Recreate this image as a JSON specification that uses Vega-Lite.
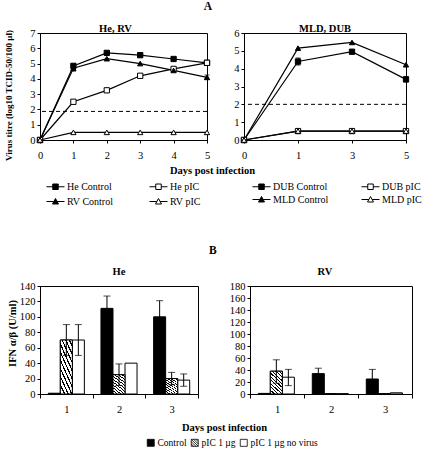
{
  "$schema": "https://vega.github.io/schema/vega-lite/v6.json",
  "padding": {"left": 3, "top": 0, "right": 0, "bottom": 0},
  "background": "white",
  "config": {
    "font": "Liberation Serif",
    "view": {"stroke": "black", "strokeWidth": 1},
    "axis": {
      "labelFont": "Liberation Serif", "labelFontSize": 10.5, "labelColor": "black",
      "titleFont": "Liberation Serif", "titleFontSize": 10, "titleFontWeight": "bold", "titleColor": "black",
      "domainColor": "black", "tickColor": "black", "grid": false, "tickSize": 3, "labelPadding": 2
    },
    "title": {"font": "Liberation Serif", "fontSize": 10.5, "fontWeight": "bold", "color": "black"},
    "legend": {"labelFont": "Liberation Serif", "labelFontSize": 10, "labelColor": "black"}
  },
  "resolve": {"scale": {"fill": "independent", "shape": "independent", "stroke": "independent"}, "legend": {"fill": "independent", "shape": "independent", "stroke": "independent"}},
  "spacing": 36,
  "vconcat": [
    {
      "title": {"text": "A", "anchor": "middle", "fontSize": 11.5, "offset": 11, "dx": -5},
      "bounds": "flush",
      "spacing": 37,
      "resolve": {"scale": {"fill": "independent", "shape": "independent", "stroke": "independent"}, "legend": {"fill": "independent", "shape": "independent", "stroke": "independent"}},
      "hconcat": [
        {
          "width": 167, "height": 107,
          "title": {"text": "He, RV", "frame": "group", "dx": -8, "offset": -6},
          "data": {"values": [
            {"series": "He Control", "day": "0", "titre": 0},
            {"series": "He Control", "day": "1", "titre": 4.85, "lo": 4.75, "hi": 4.95},
            {"series": "He Control", "day": "2", "titre": 5.7},
            {"series": "He Control", "day": "3", "titre": 5.55},
            {"series": "He Control", "day": "4", "titre": 5.3},
            {"series": "He Control", "day": "5", "titre": 5.05},
            {"series": "He pIC", "day": "0", "titre": 0},
            {"series": "He pIC", "day": "1", "titre": 2.5},
            {"series": "He pIC", "day": "2", "titre": 3.25},
            {"series": "He pIC", "day": "3", "titre": 4.2},
            {"series": "He pIC", "day": "4", "titre": 4.65},
            {"series": "He pIC", "day": "5", "titre": 5.05},
            {"series": "RV Control", "day": "0", "titre": 0},
            {"series": "RV Control", "day": "1", "titre": 4.7, "lo": 4.5, "hi": 4.9},
            {"series": "RV Control", "day": "2", "titre": 5.32},
            {"series": "RV Control", "day": "3", "titre": 5.0},
            {"series": "RV Control", "day": "4", "titre": 4.55},
            {"series": "RV Control", "day": "5", "titre": 4.1, "lo": 3.95, "hi": 4.25},
            {"series": "RV pIC", "day": "0", "titre": 0},
            {"series": "RV pIC", "day": "1", "titre": 0.5},
            {"series": "RV pIC", "day": "2", "titre": 0.5},
            {"series": "RV pIC", "day": "3", "titre": 0.5},
            {"series": "RV pIC", "day": "4", "titre": 0.5},
            {"series": "RV pIC", "day": "5", "titre": 0.5}
          ]},
          "layer": [
            {
              "mark": {"type": "line", "color": "black", "strokeWidth": 1.2},
              "encoding": {
                "x": {"field": "day", "type": "ordinal", "scale": {"type": "point", "padding": 0},
                  "axis": {"title": "Days post infection", "titleX": 172, "titleY": 30, "titleAlign": "center", "titleBaseline": "middle", "titleFontSize": 10.5, "labelAngle": 0, "labelPadding": 7}},
                "y": {"field": "titre", "type": "quantitative", "scale": {"domain": [0, 7], "nice": false},
                  "axis": {"title": "Virus titre (log10 TCID-50/100 µl)", "titleFontSize": 9, "titleX": -32, "titleY": 62, "titleAlign": "center", "titleBaseline": "middle", "titleAngle": 270, "values": [0, 1, 2, 3, 4, 5, 6, 7], "tickCount": 20, "format": "d", "labelOverlap": false}},
                "detail": {"field": "series"}
              }
            },
            {
              "data": {"values": [{"threshold": 1.87}]},
              "mark": {"type": "rule", "color": "black", "strokeDash": [4, 3], "strokeWidth": 1},
              "encoding": {"y": {"field": "threshold", "type": "quantitative"}}
            },
            {
              "transform": [{"filter": "isValid(datum.lo)"}],
              "mark": {"type": "rule", "color": "black", "strokeWidth": 1},
              "encoding": {"x": {"field": "day", "type": "ordinal"}, "y": {"field": "lo", "type": "quantitative"}, "y2": {"field": "hi"}}
            },
            {
              "transform": [{"filter": "isValid(datum.lo)"}],
              "mark": {"type": "tick", "color": "black", "size": 5, "thickness": 1},
              "encoding": {"x": {"field": "day", "type": "ordinal"}, "y": {"field": "lo", "type": "quantitative"}}
            },
            {
              "transform": [{"filter": "isValid(datum.lo)"}],
              "mark": {"type": "tick", "color": "black", "size": 5, "thickness": 1},
              "encoding": {"x": {"field": "day", "type": "ordinal"}, "y": {"field": "hi", "type": "quantitative"}}
            },
            {
              "mark": {"type": "point", "filled": true, "stroke": "black", "strokeWidth": 1, "size": 28, "opacity": 1},
              "encoding": {
                "x": {"field": "day", "type": "ordinal"},
                "y": {"field": "titre", "type": "quantitative"},
                "shape": {"condition": {"test": "indexof(datum.series,'He')===0", "value": "square"}, "value": "triangle-up"},
                "fill": {"condition": {"test": "indexof(datum.series,'Control')>=0", "value": "black"}, "value": "white"}
              }
            },
            {
              "mark": {"type": "point", "filled": true, "strokeWidth": 1, "opacity": 0},
              "encoding": {
                "x": {"field": "day", "type": "ordinal"},
                "y": {"field": "titre", "type": "quantitative"},
                "shape": {"field": "series", "type": "nominal",
                  "scale": {"domain": ["He Control", "RV Control", "He pIC", "RV pIC"],
                    "range": ["M-1.8,0H-0.55M0.55,0H1.8M-0.55,-0.55H0.55V0.55H-0.55Z", "M-1.8,0H-0.33M0.33,0H1.8M0,-0.6L0.6,0.5H-0.6Z", "M-1.8,0H-0.55M0.55,0H1.8M-0.55,-0.55H0.55V0.55H-0.55Z", "M-1.8,0H-0.33M0.33,0H1.8M0,-0.6L0.6,0.5H-0.6Z"]},
                  "legend": {"title": null, "orient": "none", "legendX": 10, "legendY": 148, "columns": 2, "columnPadding": 33, "rowPadding": 4, "symbolSize": 100, "symbolOpacity": 1, "symbolStrokeWidth": 1, "labelOffset": 6, "padding": 0}},
                "fill": {"field": "series", "type": "nominal",
                  "scale": {"domain": ["He Control", "RV Control", "He pIC", "RV pIC"], "range": ["black", "black", "white", "white"]},
                  "legend": {"title": null, "orient": "none", "legendX": 10, "legendY": 148, "columns": 2, "columnPadding": 33, "rowPadding": 4, "symbolSize": 100, "symbolOpacity": 1, "symbolStrokeWidth": 1, "labelOffset": 6, "padding": 0}},
                "stroke": {"field": "series", "type": "nominal",
                  "scale": {"domain": ["He Control", "RV Control", "He pIC", "RV pIC"], "range": ["black", "black", "black", "black"]},
                  "legend": {"title": null, "orient": "none", "legendX": 10, "legendY": 148, "columns": 2, "columnPadding": 33, "rowPadding": 4, "symbolSize": 100, "symbolOpacity": 1, "symbolStrokeWidth": 1, "labelOffset": 6, "padding": 0}}
              }
            }
          ]
        },
        {
          "width": 162, "height": 107,
          "title": {"text": "MLD, DUB", "frame": "group", "offset": -6},
          "data": {"values": [
            {"series": "DUB Control", "day": "0", "titre": 0},
            {"series": "DUB Control", "day": "1", "titre": 4.4, "lo": 4.2, "hi": 4.6},
            {"series": "DUB Control", "day": "3", "titre": 4.95, "lo": 4.85, "hi": 5.05},
            {"series": "DUB Control", "day": "5", "titre": 3.4, "lo": 3.25, "hi": 3.55},
            {"series": "DUB pIC", "day": "0", "titre": 0},
            {"series": "DUB pIC", "day": "1", "titre": 0.5},
            {"series": "DUB pIC", "day": "3", "titre": 0.5},
            {"series": "DUB pIC", "day": "5", "titre": 0.5},
            {"series": "MLD Control", "day": "0", "titre": 0},
            {"series": "MLD Control", "day": "1", "titre": 5.15},
            {"series": "MLD Control", "day": "3", "titre": 5.47},
            {"series": "MLD Control", "day": "5", "titre": 4.22},
            {"series": "MLD pIC", "day": "0", "titre": 0},
            {"series": "MLD pIC", "day": "1", "titre": 0.5},
            {"series": "MLD pIC", "day": "3", "titre": 0.5},
            {"series": "MLD pIC", "day": "5", "titre": 0.5}
          ]},
          "layer": [
            {
              "mark": {"type": "line", "color": "black", "strokeWidth": 1.2},
              "encoding": {
                "x": {"field": "day", "type": "ordinal", "scale": {"type": "point", "padding": 0},
                  "axis": {"title": null, "labelAngle": 0, "labelPadding": 7}},
                "y": {"field": "titre", "type": "quantitative", "scale": {"domain": [0, 6], "nice": false},
                  "axis": {"title": null, "values": [0, 1, 2, 3, 4, 5, 6], "tickCount": 20, "format": "d", "labelOverlap": false}},
                "detail": {"field": "series"}
              }
            },
            {
              "data": {"values": [{"threshold": 2.0}]},
              "mark": {"type": "rule", "color": "black", "strokeDash": [4, 3], "strokeWidth": 1},
              "encoding": {"y": {"field": "threshold", "type": "quantitative"}}
            },
            {
              "transform": [{"filter": "isValid(datum.lo)"}],
              "mark": {"type": "rule", "color": "black", "strokeWidth": 1},
              "encoding": {"x": {"field": "day", "type": "ordinal"}, "y": {"field": "lo", "type": "quantitative"}, "y2": {"field": "hi"}}
            },
            {
              "transform": [{"filter": "isValid(datum.lo)"}],
              "mark": {"type": "tick", "color": "black", "size": 5, "thickness": 1},
              "encoding": {"x": {"field": "day", "type": "ordinal"}, "y": {"field": "lo", "type": "quantitative"}}
            },
            {
              "transform": [{"filter": "isValid(datum.lo)"}],
              "mark": {"type": "tick", "color": "black", "size": 5, "thickness": 1},
              "encoding": {"x": {"field": "day", "type": "ordinal"}, "y": {"field": "hi", "type": "quantitative"}}
            },
            {
              "mark": {"type": "point", "filled": true, "stroke": "black", "strokeWidth": 1, "size": 28, "opacity": 1},
              "encoding": {
                "x": {"field": "day", "type": "ordinal"},
                "y": {"field": "titre", "type": "quantitative"},
                "shape": {"condition": {"test": "indexof(datum.series,'DUB')===0", "value": "square"}, "value": "triangle-up"},
                "fill": {"condition": {"test": "indexof(datum.series,'Control')>=0", "value": "black"}, "value": "white"}
              }
            },
            {
              "mark": {"type": "point", "filled": true, "strokeWidth": 1, "opacity": 0},
              "encoding": {
                "x": {"field": "day", "type": "ordinal"},
                "y": {"field": "titre", "type": "quantitative"},
                "shape": {"field": "series", "type": "nominal",
                  "scale": {"domain": ["DUB Control", "MLD Control", "DUB pIC", "MLD pIC"],
                    "range": ["M-1.8,0H-0.55M0.55,0H1.8M-0.55,-0.55H0.55V0.55H-0.55Z", "M-1.8,0H-0.33M0.33,0H1.8M0,-0.6L0.6,0.5H-0.6Z", "M-1.8,0H-0.55M0.55,0H1.8M-0.55,-0.55H0.55V0.55H-0.55Z", "M-1.8,0H-0.33M0.33,0H1.8M0,-0.6L0.6,0.5H-0.6Z"]},
                  "legend": {"title": null, "orient": "none", "legendX": 12, "legendY": 148, "columns": 2, "columnPadding": 30, "rowPadding": 2, "symbolSize": 100, "symbolOpacity": 1, "symbolStrokeWidth": 1, "labelOffset": 6, "padding": 0}},
                "fill": {"field": "series", "type": "nominal",
                  "scale": {"domain": ["DUB Control", "MLD Control", "DUB pIC", "MLD pIC"], "range": ["black", "black", "white", "white"]},
                  "legend": {"title": null, "orient": "none", "legendX": 12, "legendY": 148, "columns": 2, "columnPadding": 30, "rowPadding": 2, "symbolSize": 100, "symbolOpacity": 1, "symbolStrokeWidth": 1, "labelOffset": 6, "padding": 0}},
                "stroke": {"field": "series", "type": "nominal",
                  "scale": {"domain": ["DUB Control", "MLD Control", "DUB pIC", "MLD pIC"], "range": ["black", "black", "black", "black"]},
                  "legend": {"title": null, "orient": "none", "legendX": 12, "legendY": 148, "columns": 2, "columnPadding": 30, "rowPadding": 2, "symbolSize": 100, "symbolOpacity": 1, "symbolStrokeWidth": 1, "labelOffset": 6, "padding": 0}}
              }
            }
          ]
        }
      ]
    },
    {
      "title": {"text": "B", "anchor": "middle", "fontSize": 11.5, "offset": 10, "dx": 3},
      "bounds": "flush",
      "spacing": 52,
      "resolve": {"scale": {"fill": "independent", "shape": "independent", "stroke": "independent"}, "legend": {"fill": "independent", "shape": "independent", "stroke": "independent"}},
      "hconcat": [
        {
          "width": 158, "height": 108,
          "title": {"text": "He", "frame": "group", "offset": 4},
          "data": {"values": [
            {"day": "1", "group": "Control", "ifn": 1},
            {"day": "1", "group": "pIC 1 µg", "ifn": 70, "lo": 50, "hi": 90},
            {"day": "1", "group": "pIC 1 µg no virus", "ifn": 70, "lo": 50, "hi": 90},
            {"day": "2", "group": "Control", "ifn": 111, "lo": 95, "hi": 127},
            {"day": "2", "group": "pIC 1 µg", "ifn": 25, "lo": 11, "hi": 39},
            {"day": "2", "group": "pIC 1 µg no virus", "ifn": 40},
            {"day": "3", "group": "Control", "ifn": 100, "lo": 79, "hi": 121},
            {"day": "3", "group": "pIC 1 µg", "ifn": 20, "lo": 12, "hi": 28},
            {"day": "3", "group": "pIC 1 µg no virus", "ifn": 18, "lo": 10, "hi": 26}
          ]},
          "layer": [
            {
              "mark": {"type": "bar", "stroke": "black", "strokeWidth": 1},
              "encoding": {
                "x": {"field": "day", "type": "ordinal", "scale": {"paddingInner": 0, "paddingOuter": 0},
                  "axis": {"title": "Days post infection", "titleX": 184, "titleY": 33, "titleAlign": "center", "titleBaseline": "middle", "titleFontSize": 10.5, "labelAngle": 0, "tickBand": "extent", "tickSize": 4, "labelPadding": 6}},
                "xOffset": {"field": "group", "type": "nominal", "scale": {"domain": ["Control", "pIC 1 µg", "pIC 1 µg no virus"], "paddingInner": 0, "paddingOuter": 0.69}},
                "y": {"field": "ifn", "type": "quantitative", "scale": {"domain": [0, 140], "nice": false},
                  "axis": {"title": "IFN α/β (U/ml)", "titleFontSize": 10.5, "titleX": -28, "titleY": 47, "titleAlign": "center", "titleBaseline": "middle", "titleAngle": 270, "values": [0, 20, 40, 60, 80, 100, 120, 140], "tickCount": 20, "format": "d", "labelOverlap": false}},
                "fill": {"condition": {"test": "datum.group==='Control'", "value": "black"}, "value": "white"}
              }
            },
            {
              "transform": [{"filter": "datum.group==='pIC 1 µg'"}],
              "mark": {"type": "bar", "stroke": "black", "strokeWidth": 1,
                "fill": {"gradient": "linear", "x1": 0, "y1": 1, "x2": 0.6, "y2": -0.2, "stops": [
                  {"offset": 0, "color": "black"}, {"offset": 0.035, "color": "black"}, {"offset": 0.035, "color": "white"}, {"offset": 0.1, "color": "white"},
                  {"offset": 0.1, "color": "black"}, {"offset": 0.135, "color": "black"}, {"offset": 0.135, "color": "white"}, {"offset": 0.2, "color": "white"},
                  {"offset": 0.2, "color": "black"}, {"offset": 0.235, "color": "black"}, {"offset": 0.235, "color": "white"}, {"offset": 0.3, "color": "white"},
                  {"offset": 0.3, "color": "black"}, {"offset": 0.335, "color": "black"}, {"offset": 0.335, "color": "white"}, {"offset": 0.4, "color": "white"},
                  {"offset": 0.4, "color": "black"}, {"offset": 0.435, "color": "black"}, {"offset": 0.435, "color": "white"}, {"offset": 0.5, "color": "white"},
                  {"offset": 0.5, "color": "black"}, {"offset": 0.535, "color": "black"}, {"offset": 0.535, "color": "white"}, {"offset": 0.6, "color": "white"},
                  {"offset": 0.6, "color": "black"}, {"offset": 0.635, "color": "black"}, {"offset": 0.635, "color": "white"}, {"offset": 0.7, "color": "white"},
                  {"offset": 0.7, "color": "black"}, {"offset": 0.735, "color": "black"}, {"offset": 0.735, "color": "white"}, {"offset": 0.8, "color": "white"},
                  {"offset": 0.8, "color": "black"}, {"offset": 0.835, "color": "black"}, {"offset": 0.835, "color": "white"}, {"offset": 0.9, "color": "white"},
                  {"offset": 0.9, "color": "black"}, {"offset": 0.935, "color": "black"}, {"offset": 0.935, "color": "white"}, {"offset": 1, "color": "white"}
                ]}},
              "encoding": {"x": {"field": "day", "type": "ordinal"}, "xOffset": {"field": "group", "type": "nominal"}, "y": {"field": "ifn", "type": "quantitative"}}
            },
            {
              "transform": [{"filter": "isValid(datum.lo)"}],
              "mark": {"type": "rule", "color": "black", "strokeWidth": 1},
              "encoding": {"x": {"field": "day", "type": "ordinal"}, "xOffset": {"field": "group", "type": "nominal"}, "y": {"field": "lo", "type": "quantitative"}, "y2": {"field": "hi"}}
            },
            {
              "transform": [{"filter": "isValid(datum.lo)"}],
              "mark": {"type": "tick", "color": "black", "size": 7, "thickness": 1},
              "encoding": {"x": {"field": "day", "type": "ordinal"}, "xOffset": {"field": "group", "type": "nominal"}, "y": {"field": "lo", "type": "quantitative"}}
            },
            {
              "transform": [{"filter": "isValid(datum.lo)"}],
              "mark": {"type": "tick", "color": "black", "size": 7, "thickness": 1},
              "encoding": {"x": {"field": "day", "type": "ordinal"}, "xOffset": {"field": "group", "type": "nominal"}, "y": {"field": "hi", "type": "quantitative"}}
            },
            {
              "mark": {"type": "point", "filled": true, "strokeWidth": 0.8, "opacity": 0},
              "encoding": {
                "x": {"field": "day", "type": "ordinal"},
                "xOffset": {"field": "group", "type": "nominal"},
                "y": {"field": "ifn", "type": "quantitative"},
                "shape": {"field": "group", "type": "nominal",
                  "scale": {"domain": ["Control", "pIC 1 µg", "pIC 1 µg no virus"],
                    "range": ["square", "M-1,-1H1V1H-1ZM-1,-1L1,1M-1,-0.33L0.33,1M-0.33,-1L1,0.33M-1,0.33L-0.33,1M0.33,-1L1,-0.33", "square"]},
                  "legend": {"title": null, "orient": "none", "legendX": 106, "legendY": 152, "direction": "horizontal", "symbolSize": 49, "symbolOpacity": 1, "symbolStrokeWidth": 0.8, "labelOffset": 2, "labelFontSize": 9.5, "columnPadding": 2, "padding": 0}},
                "fill": {"field": "group", "type": "nominal",
                  "scale": {"domain": ["Control", "pIC 1 µg", "pIC 1 µg no virus"], "range": ["black", "white", "white"]},
                  "legend": {"title": null, "orient": "none", "legendX": 106, "legendY": 152, "direction": "horizontal", "symbolSize": 49, "symbolOpacity": 1, "symbolStrokeWidth": 0.8, "labelOffset": 2, "labelFontSize": 9.5, "columnPadding": 2, "padding": 0}},
                "stroke": {"field": "group", "type": "nominal",
                  "scale": {"domain": ["Control", "pIC 1 µg", "pIC 1 µg no virus"], "range": ["black", "black", "black"]},
                  "legend": {"title": null, "orient": "none", "legendX": 106, "legendY": 152, "direction": "horizontal", "symbolSize": 49, "symbolOpacity": 1, "symbolStrokeWidth": 0.8, "labelOffset": 2, "labelFontSize": 9.5, "columnPadding": 2, "padding": 0}}
              }
            }
          ]
        },
        {
          "width": 162, "height": 108,
          "title": {"text": "RV", "frame": "group", "dx": -6, "offset": 4},
          "data": {"values": [
            {"day": "1", "group": "Control", "ifn": 1},
            {"day": "1", "group": "pIC 1 µg", "ifn": 38, "lo": 18, "hi": 57},
            {"day": "1", "group": "pIC 1 µg no virus", "ifn": 28, "lo": 14, "hi": 41},
            {"day": "2", "group": "Control", "ifn": 34, "lo": 25, "hi": 43},
            {"day": "2", "group": "pIC 1 µg", "ifn": 0.5},
            {"day": "2", "group": "pIC 1 µg no virus", "ifn": 0.5},
            {"day": "3", "group": "Control", "ifn": 25, "lo": 9, "hi": 41},
            {"day": "3", "group": "pIC 1 µg", "ifn": 0.5},
            {"day": "3", "group": "pIC 1 µg no virus", "ifn": 2}
          ]},
          "layer": [
            {
              "mark": {"type": "bar", "stroke": "black", "strokeWidth": 1},
              "encoding": {
                "x": {"field": "day", "type": "ordinal", "scale": {"paddingInner": 0, "paddingOuter": 0},
                  "axis": {"title": null, "labelAngle": 0, "tickBand": "extent", "tickSize": 4, "labelPadding": 6}},
                "xOffset": {"field": "group", "type": "nominal", "scale": {"domain": ["Control", "pIC 1 µg", "pIC 1 µg no virus"], "paddingInner": 0, "paddingOuter": 0.7}},
                "y": {"field": "ifn", "type": "quantitative", "scale": {"domain": [0, 180], "nice": false},
                  "axis": {"title": null, "values": [0, 20, 40, 60, 80, 100, 120, 140, 160, 180], "tickCount": 20, "format": "d", "labelOverlap": false}},
                "fill": {"condition": {"test": "datum.group==='Control'", "value": "black"}, "value": "white"}
              }
            },
            {
              "transform": [{"filter": "datum.group==='pIC 1 µg'"}],
              "mark": {"type": "bar", "stroke": "black", "strokeWidth": 1,
                "fill": {"gradient": "linear", "x1": 0, "y1": 1, "x2": 0.6, "y2": -0.2, "stops": [
                  {"offset": 0, "color": "black"}, {"offset": 0.035, "color": "black"}, {"offset": 0.035, "color": "white"}, {"offset": 0.1, "color": "white"},
                  {"offset": 0.1, "color": "black"}, {"offset": 0.135, "color": "black"}, {"offset": 0.135, "color": "white"}, {"offset": 0.2, "color": "white"},
                  {"offset": 0.2, "color": "black"}, {"offset": 0.235, "color": "black"}, {"offset": 0.235, "color": "white"}, {"offset": 0.3, "color": "white"},
                  {"offset": 0.3, "color": "black"}, {"offset": 0.335, "color": "black"}, {"offset": 0.335, "color": "white"}, {"offset": 0.4, "color": "white"},
                  {"offset": 0.4, "color": "black"}, {"offset": 0.435, "color": "black"}, {"offset": 0.435, "color": "white"}, {"offset": 0.5, "color": "white"},
                  {"offset": 0.5, "color": "black"}, {"offset": 0.535, "color": "black"}, {"offset": 0.535, "color": "white"}, {"offset": 0.6, "color": "white"},
                  {"offset": 0.6, "color": "black"}, {"offset": 0.635, "color": "black"}, {"offset": 0.635, "color": "white"}, {"offset": 0.7, "color": "white"},
                  {"offset": 0.7, "color": "black"}, {"offset": 0.735, "color": "black"}, {"offset": 0.735, "color": "white"}, {"offset": 0.8, "color": "white"},
                  {"offset": 0.8, "color": "black"}, {"offset": 0.835, "color": "black"}, {"offset": 0.835, "color": "white"}, {"offset": 0.9, "color": "white"},
                  {"offset": 0.9, "color": "black"}, {"offset": 0.935, "color": "black"}, {"offset": 0.935, "color": "white"}, {"offset": 1, "color": "white"}
                ]}},
              "encoding": {"x": {"field": "day", "type": "ordinal"}, "xOffset": {"field": "group", "type": "nominal"}, "y": {"field": "ifn", "type": "quantitative"}}
            },
            {
              "transform": [{"filter": "isValid(datum.lo)"}],
              "mark": {"type": "rule", "color": "black", "strokeWidth": 1},
              "encoding": {"x": {"field": "day", "type": "ordinal"}, "xOffset": {"field": "group", "type": "nominal"}, "y": {"field": "lo", "type": "quantitative"}, "y2": {"field": "hi"}}
            },
            {
              "transform": [{"filter": "isValid(datum.lo)"}],
              "mark": {"type": "tick", "color": "black", "size": 7, "thickness": 1},
              "encoding": {"x": {"field": "day", "type": "ordinal"}, "xOffset": {"field": "group", "type": "nominal"}, "y": {"field": "lo", "type": "quantitative"}}
            },
            {
              "transform": [{"filter": "isValid(datum.lo)"}],
              "mark": {"type": "tick", "color": "black", "size": 7, "thickness": 1},
              "encoding": {"x": {"field": "day", "type": "ordinal"}, "xOffset": {"field": "group", "type": "nominal"}, "y": {"field": "hi", "type": "quantitative"}}
            }
          ]
        }
      ]
    }
  ]
}
